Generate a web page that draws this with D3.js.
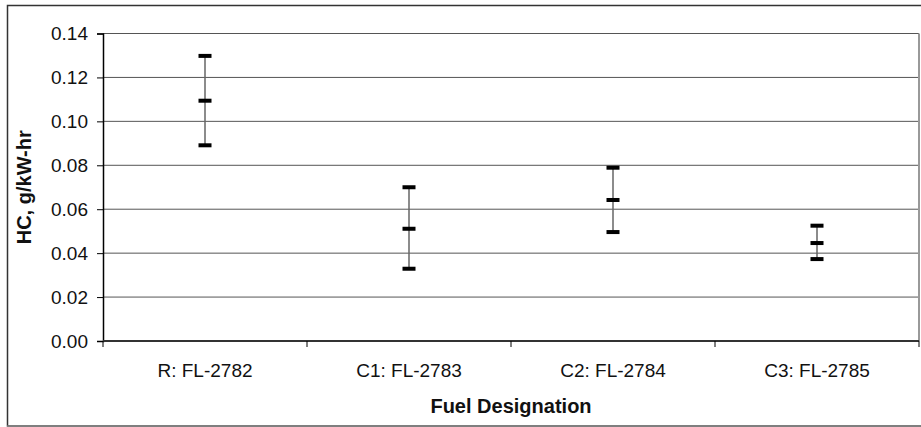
<!DOCTYPE html>
<html><head><meta charset="utf-8">
<script src="https://cdn.jsdelivr.net/npm/d3@7"></script>
<style>body{margin:0;background:#fff;} svg{display:block;font-family:Arial,"Liberation Sans",sans-serif;}</style>
</head><body>
<script>
const categories = ["R: FL-2782","C1: FL-2783","C2: FL-2784","C3: FL-2785"];
const highVals = [0.1298,0.0700,0.0789,0.0525];
const meanVals = [0.1094,0.0511,0.0642,0.0446];
const lowVals  = [0.0891,0.0329,0.0496,0.0373];
const yTicks = [0,0.02,0.04,0.06,0.08,0.10,0.12,0.14];
const yTitle = "HC, g/kW-hr";
const xTitle = "Fuel Designation";

const W=921,H=427;
const m={left:103,right:919,top:33.5,bottom:341};
const FF="Arial,'Liberation Sans',sans-serif";
const svg=d3.select("body").append("svg").attr("width",W).attr("height",H);
svg.append("rect").attr("x",7.5).attr("y",5.5).attr("width",W).attr("height",420.5).attr("fill","#fff").attr("stroke","#333").attr("stroke-width",1.5);
svg.append("line").attr("x1",7).attr("x2",W).attr("y1",426).attr("y2",426).attr("stroke","#999").attr("stroke-width",1);

const x=d3.scaleBand().domain(categories).range([m.left,m.right]);
const y=d3.scaleLinear().domain([0,0.14]).range([m.bottom,m.top]);

// gridlines
svg.append("g").selectAll("line").data(yTicks.filter(d=>d>0)).join("line")
  .attr("x1",m.left).attr("x2",m.right).attr("y1",d=>y(d)).attr("y2",d=>y(d))
  .attr("stroke","#555").attr("stroke-width",1);
// right border
svg.append("line").attr("x1",m.right).attr("x2",m.right).attr("y1",m.top).attr("y2",m.bottom).attr("stroke","#999").attr("stroke-width",2);

// y axis
const ya=svg.append("g").attr("transform",`translate(${m.left},0)`)
  .call(d3.axisLeft(y).tickValues(yTicks).tickFormat(d3.format(".2f")).tickSize(6).tickPadding(9));
ya.attr("font-size",null).attr("font-family",null);
ya.select(".domain").attr("stroke","#000").attr("stroke-width",1.5);
ya.selectAll(".tick line").attr("stroke","#000");
ya.selectAll("text").style("font-size","19px").style("font-family",FF).attr("fill","#111");

// x axis
const xa=svg.append("g").attr("transform",`translate(0,${m.bottom})`)
  .call(d3.axisBottom(x).tickSize(0).tickPadding(0));
xa.attr("font-size",null).attr("font-family",null);
xa.select(".domain").remove();
xa.selectAll("text").attr("dy",null).attr("y",36).style("font-size","19px").style("font-family",FF).attr("fill","#111");
svg.append("line").attr("x1",m.left).attr("x2",m.right).attr("y1",m.bottom).attr("y2",m.bottom).attr("stroke","#333").attr("stroke-width",2);
const bounds=[...categories.map(c=>x(c)),m.right];
svg.append("g").selectAll("line").data(bounds).join("line")
  .attr("x1",d=>d).attr("x2",d=>d).attr("y1",m.bottom).attr("y2",m.bottom+6).attr("stroke","#000");

// error bars
const g=svg.append("g");
categories.forEach((c,i)=>{
  const cx=x(c)+x.bandwidth()/2;
  g.append("line").attr("x1",cx).attr("x2",cx).attr("y1",y(highVals[i])).attr("y2",y(lowVals[i]))
    .attr("stroke","#666").attr("stroke-width",1.5);
  [highVals[i],meanVals[i],lowVals[i]].forEach(v=>{
    g.append("rect").attr("x",cx-6.5).attr("y",y(v)-2).attr("width",13).attr("height",4).attr("fill","#000");
  });
});

// titles
svg.append("text").attr("transform",`translate(31,${(m.top+m.bottom)/2}) rotate(-90)`)
  .attr("text-anchor","middle").attr("font-weight","bold").style("font-size","20px").style("font-family",FF).attr("fill","#111").text(yTitle);
svg.append("text").attr("x",(m.left+m.right)/2).attr("y",413)
  .attr("text-anchor","middle").attr("font-weight","bold").style("font-size","20px").style("font-family",FF).attr("fill","#111").text(xTitle);
</script>
</body></html>
